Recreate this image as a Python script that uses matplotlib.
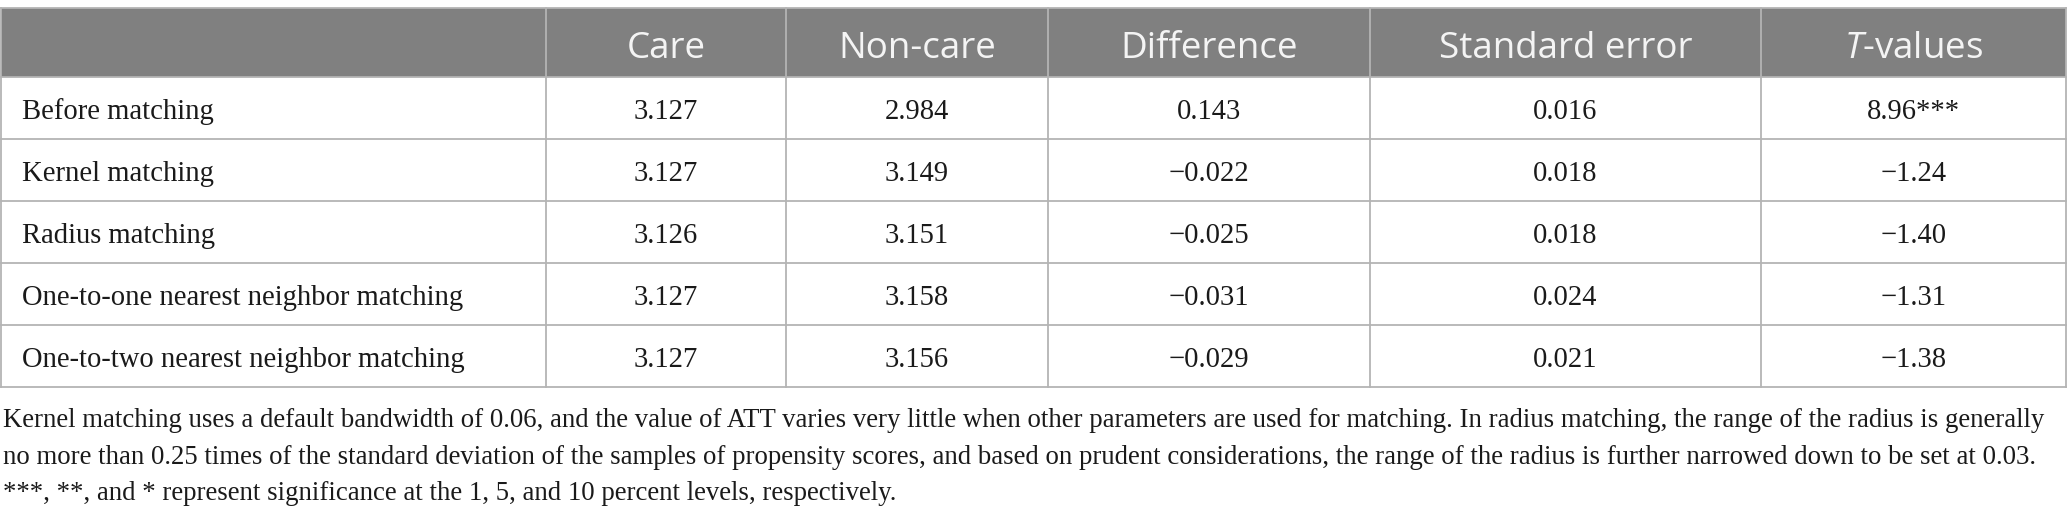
import matplotlib
matplotlib.use('Agg')
import matplotlib.pyplot as plt
from matplotlib.patches import Rectangle

plt.rcParams['mathtext.fontset'] = 'custom'
plt.rcParams['mathtext.it'] = 'Open Sans:italic'
plt.rcParams['mathtext.rm'] = 'Open Sans'

# table content
columns = ['Care', 'Non-care', 'Difference', 'Standard error', r'$\mathit{T}$-values']
row_labels = ['Before matching', 'Kernel matching', 'Radius matching',
              'One-to-one nearest neighbor matching',
              'One-to-two nearest neighbor matching']
care = [3.127, 3.127, 3.126, 3.127, 3.127]
non_care = [2.984, 3.149, 3.151, 3.158, 3.156]
difference = [0.143, -0.022, -0.025, -0.031, -0.029]
std_error = [0.016, 0.018, 0.018, 0.024, 0.021]
t_values = [8.96, -1.24, -1.40, -1.31, -1.38]
t_stars = ['***', '', '', '', '']
notes = [
    'Kernel matching uses a default bandwidth of 0.06, and the value of ATT varies very little when other '
    'parameters are used for matching. In radius matching, the range of the radius is generally',
    'no more than 0.25 times of the standard deviation of the samples of propensity scores, and based on '
    'prudent considerations, the range of the radius is further narrowed down to be set at 0.03.',
    '***, **, and * represent significance at the 1, 5, and 10 percent levels, respectively.',
]


def fmt(v, nd):
    return f'{v:.{nd}f}'.replace('-', '\u2212')


cells = []
for i in range(len(row_labels)):
    cells.append([fmt(care[i], 3), fmt(non_care[i], 3), fmt(difference[i], 3),
                  fmt(std_error[i], 3), fmt(t_values[i], 2) + t_stars[i]])

# layout in pixels
W, H = 2067, 521
col_edges = [0.5, 546, 786, 1048, 1370, 1761, 2066]
top, head_bottom, row_h = 8, 77, 62
line_col = '#b4b4b4'
head_bg = '#808080'
serif = 'Liberation Serif'
sans = 'Open Sans'

fig = plt.figure(figsize=(W / 100, H / 100), dpi=100)
ax = fig.add_axes([0, 0, 1, 1])
ax.set_xlim(0, W)
ax.set_ylim(H, 0)
ax.axis('off')
renderer = fig.canvas.get_renderer()


def fit_size(text, target_w, **kw):
    t = ax.text(0, 0, text, fontsize=20, **kw)
    w = t.get_window_extent(renderer).width
    t.remove()
    return 20 * target_w / w


body_fs = fit_size('Kernel matching', 192, family=serif)
note_fs = fit_size(notes[0], 2044, family=serif)
head_fs = fit_size('Care', 79, family=sans)

n_rows = len(row_labels)
bottom = head_bottom + row_h * n_rows

# header band
ax.add_patch(Rectangle((col_edges[0], top), col_edges[-1] - col_edges[0],
                       head_bottom - top, facecolor=head_bg, edgecolor='none'))

# grid lines
for k in range(n_rows + 1):
    y = head_bottom + k * row_h
    ax.plot([col_edges[0], col_edges[-1]], [y, y], color=line_col, lw=1.3)
ax.plot([col_edges[0], col_edges[-1]], [top, top], color=line_col, lw=1.3)
for x in col_edges:
    ax.plot([x, x], [top, bottom], color=line_col, lw=1.3)

# header text
for j, name in enumerate(columns):
    cx = (col_edges[j + 1] + col_edges[j + 2]) / 2
    ax.text(cx, 58, name, ha='center', va='baseline', color='#f4f4f4',
            fontsize=head_fs, family=sans)

# body text
for i, label in enumerate(row_labels):
    yb = head_bottom + i * row_h + 42
    ax.text(22, yb, label, ha='left', va='baseline', color='#1a1a1a',
            fontsize=body_fs, family=serif)
    for j, val in enumerate(cells[i]):
        cx = (col_edges[j + 1] + col_edges[j + 2]) / 2
        ax.text(cx, yb, val, ha='center', va='baseline', color='#1a1a1a',
                fontsize=body_fs, family=serif)

# footnotes
for k, line in enumerate(notes):
    ax.text(3, 427 + k * 36.5, line, ha='left', va='baseline', color='#1a1a1a',
            fontsize=note_fs, family=serif)

fig.savefig('out.png', dpi=100)
